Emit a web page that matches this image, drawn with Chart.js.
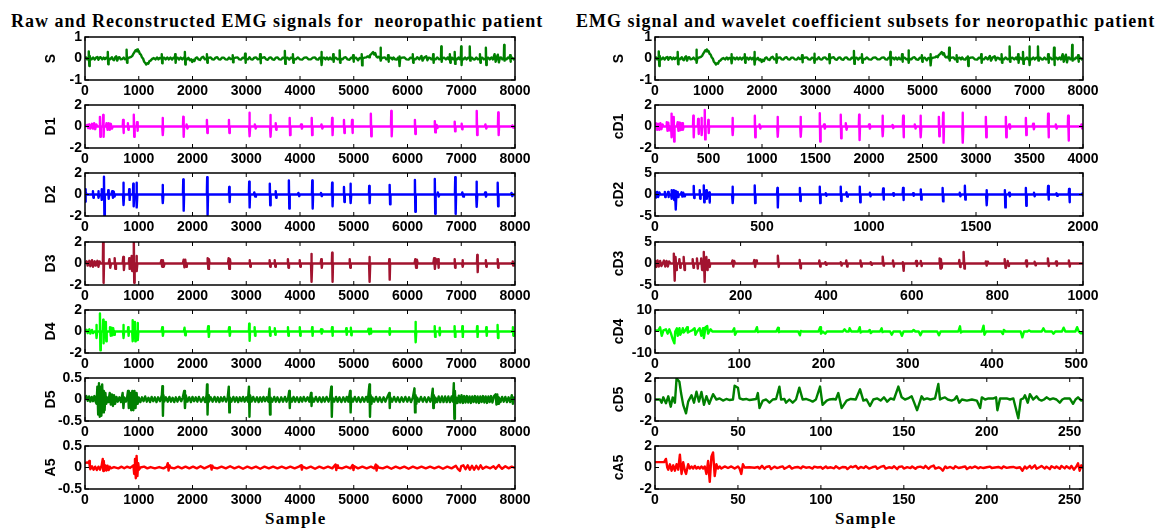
<!DOCTYPE html>
<html><head><meta charset="utf-8">
<script src="https://cdn.jsdelivr.net/npm/chart.js@4.4.1/dist/chart.umd.min.js"></script>
<style>
html,body{margin:0;padding:0;background:#fff}
body{width:1168px;height:530px;overflow:hidden;position:relative}
canvas{position:absolute;left:0;top:0}
.t{position:absolute;font-family:"Liberation Serif","Times New Roman",serif;font-weight:bold;white-space:pre;color:#000;line-height:1}
</style></head><body>
<div class="t" style="left:11px;top:11.6px;font-size:18px;letter-spacing:1px">Raw and Reconstructed EMG signals for  neoropathic patient</div>
<div class="t" style="left:576px;top:11.6px;font-size:18px;letter-spacing:1px">EMG signal and wavelet coefficient subsets for neoropathic patient</div>
<div class="t" style="left:265px;top:509.7px;font-size:17px;letter-spacing:1.3px">Sample</div>
<div class="t" style="left:835px;top:509.7px;font-size:17px;letter-spacing:1.3px">Sample</div>
<script>
// ---------- data: [sample, value] ----------
const S = [[0,0],[20,0.05],[40,-0.04],[60,0.04],[68,0],[72,0.33],[80,-0.35],[88,0.12],[96,0],[120,-0.04],[150,0.05],[180,-0.05],[205,0.04],[230,0.07],[250,-0.06],[270,0.04],[290,0.06],[320,-0.04],[345,0.04],[370,-0.03],[395,0.04],[418,0],[424,0.3],[432,-0.27],[440,0],[465,-0.04],[500,0.06],[520,-0.05],[540,-0.08],[560,0.05],[580,0.1],[600,-0.1],[620,0.04],[640,0.06],[665,-0.04],[690,-0.03],[720,0.04],[745,-0.04],[768,0],[774,0.41],[782,-0.2],[790,0],[820,0.04],[860,0.08],[880,0.12],[900,0.22],[920,0.3],[940,0.38],[955,0.34],[970,0.42],[985,0.33],[1000,0.35],[1020,0.22],[1040,0.18],[1060,0.05],[1080,0.0],[1100,-0.15],[1120,-0.2],[1140,-0.28],[1160,-0.22],[1180,-0.24],[1200,-0.12],[1220,-0.1],[1250,-0.02],[1280,0.02],[1310,-0.04],[1340,0.05],[1365,-0.04],[1390,0.03],[1422,0],[1428,0.2],[1436,-0.22],[1444,0],[1470,0.04],[1500,-0.04],[1530,0.05],[1560,-0.04],[1590,0.04],[1620,-0.05],[1645,0.04],[1672,0],[1678,0.2],[1686,-0.2],[1694,0],[1720,0.04],[1750,-0.05],[1780,0.04],[1810,-0.04],[1835,0.03],[1852,0],[1858,0.3],[1866,-0.28],[1874,0],[1900,-0.04],[1925,0.03],[1950,-0.08],[1975,-0.04],[1995,-0.16],[2015,-0.06],[2035,-0.12],[2060,0.02],[2085,0.05],[2110,-0.04],[2140,-0.07],[2170,0.04],[2200,0.08],[2230,-0.04],[2262,0],[2268,0.2],[2276,-0.2],[2284,0],[2310,0.04],[2340,0.05],[2370,-0.04],[2400,-0.05],[2430,0.04],[2460,0.06],[2490,-0.04],[2520,-0.05],[2550,0.04],[2580,0.04],[2615,-0.04],[2650,-0.05],[2680,0.04],[2710,-0.03],[2742,0],[2748,0.15],[2756,-0.18],[2764,0],[2800,0.04],[2840,0.05],[2870,-0.04],[2900,-0.05],[2935,0.04],[2972,0],[2978,0.22],[2986,-0.2],[2994,0],[3030,-0.04],[3060,0.06],[3090,-0.04],[3120,-0.05],[3150,0.04],[3180,0.05],[3215,-0.04],[3252,0],[3258,0.2],[3266,-0.22],[3274,0],[3305,0.04],[3340,0.06],[3370,-0.04],[3400,-0.06],[3430,0.04],[3460,0.05],[3490,-0.04],[3520,-0.06],[3550,0.04],[3580,0.05],[3615,-0.04],[3650,-0.05],[3680,0.04],[3712,0],[3718,0.35],[3726,-0.25],[3734,0],[3765,0.04],[3800,-0.05],[3830,0.04],[3862,0],[3868,0.2],[3876,-0.2],[3884,0],[3920,-0.04],[3960,0.05],[4000,-0.04],[4040,-0.05],[4080,0.04],[4120,0.05],[4160,-0.04],[4200,-0.04],[4240,0.04],[4280,0.05],[4310,-0.04],[4340,-0.05],[4365,0.04],[4392,0],[4398,0.3],[4406,-0.3],[4414,0],[4445,0.04],[4475,-0.04],[4500,0.05],[4530,-0.05],[4560,0.04],[4585,-0.04],[4612,0],[4618,0.2],[4626,-0.15],[4634,0],[4665,0.04],[4700,-0.04],[4732,0],[4738,0.38],[4746,-0.2],[4754,0],[4790,-0.04],[4820,0.04],[4850,0.06],[4885,-0.04],[4920,-0.06],[4950,0.04],[4982,0],[4988,0.15],[4996,-0.15],[5004,0],[5040,0.04],[5080,-0.08],[5110,0.03],[5142,0],[5148,0.2],[5156,-0.32],[5164,0],[5200,0.04],[5230,0.05],[5260,0.1],[5285,0.06],[5300,0.15],[5330,0.22],[5360,0.3],[5380,0.18],[5400,0.25],[5420,0.1],[5440,0.05],[5465,0.08],[5492,0],[5498,0.5],[5506,-0.1],[5514,0],[5545,0.04],[5580,0.05],[5605,-0.04],[5632,0],[5638,0.15],[5646,-0.15],[5654,0],[5690,0.04],[5720,-0.04],[5740,0.05],[5770,-0.04],[5800,-0.05],[5820,0.03],[5842,0],[5848,0.1],[5856,-0.35],[5864,0],[5900,0.04],[5940,0.05],[5980,-0.04],[6020,-0.05],[6055,0.04],[6092,0],[6098,0.2],[6106,-0.2],[6114,0],[6150,-0.04],[6180,0.06],[6220,-0.04],[6260,0.12],[6280,-0.1],[6310,0.04],[6350,0.1],[6370,-0.08],[6395,0.04],[6420,0.03],[6445,-0.04],[6472,0],[6478,0.2],[6486,-0.2],[6494,0],[6525,-0.04],[6552,0.05],[6590,-0.04],[6622,0],[6628,0.56],[6636,-0.15],[6644,0],[6680,0.04],[6715,-0.04],[6750,0.05],[6765,-0.03],[6782,0],[6788,0.2],[6796,-0.2],[6804,0],[6830,0.04],[6850,-0.04],[6872,0],[6878,0.3],[6886,-0.25],[6894,0],[6920,-0.04],[6950,0.05],[6970,-0.03],[6992,0],[6998,0.56],[7006,-0.3],[7014,0],[7040,-0.04],[7070,0.05],[7100,-0.04],[7125,0.04],[7152,0],[7158,0.56],[7166,-0.1],[7174,0],[7200,0.04],[7225,-0.04],[7250,-0.05],[7280,0.04],[7310,-0.04],[7342,0],[7348,0.2],[7356,-0.2],[7364,0],[7390,0.04],[7420,-0.04],[7452,0],[7458,0.5],[7466,-0.3],[7474,0],[7500,0.04],[7530,-0.04],[7560,0.05],[7590,-0.04],[7620,0.2],[7640,-0.15],[7660,0.05],[7680,0.18],[7700,-0.18],[7720,0.04],[7740,0.05],[7765,-0.04],[7792,0],[7798,0.63],[7806,-0.1],[7814,0],[7840,-0.04],[7870,0.05],[7902,0],[7908,0.15],[7916,-0.15],[7924,0],[7950,0.04],[7975,-0.04],[8000,0.02]];

const D1 = [[0,0],[40,0.15],[60,-0.15],[80,0.2],[100,-0.2],[130,0.25],[150,-0.2],[170,0.3],[190,-0.25],[210,0.2],[230,0],[272,0],[278,0.9],[286,-0.95],[294,0],[332,0],[338,1.07],[346,-0.95],[354,0],[390,0],[400,0.3],[420,-0.3],[440,0.3],[460,-0.3],[480,0.25],[500,-0.2],[520,0],[702,0],[708,0.6],[716,-0.6],[724,0],[792,0],[798,0.3],[806,-0.3],[814,0],[902,0],[908,1.1],[916,-0.95],[924,0],[962,0],[968,0.4],[976,-0.4],[984,0],[1437,0],[1443,0.8],[1451,-0.8],[1459,0],[1822,0],[1828,0.9],[1836,-0.95],[1844,0],[1880,0],[1890,0.2],[1905,-0.2],[1920,0],[2262,0],[2268,0.6],[2276,-0.6],[2284,0],[2672,0],[2678,0.6],[2686,-0.6],[2694,0],[3052,0],[3058,1.28],[3066,-0.9],[3074,0],[3150,0],[3160,0.2],[3175,-0.2],[3190,0],[3442,0],[3448,1.07],[3456,-0.95],[3464,0],[3542,0],[3548,0.3],[3556,-0.3],[3564,0],[3802,0],[3808,0.8],[3816,-0.8],[3824,0],[4010,0],[4020,0.2],[4035,-0.2],[4050,0],[4212,0],[4218,0.8],[4226,-0.8],[4234,0],[4390,0],[4400,0.2],[4415,-0.2],[4430,0],[4592,0],[4598,0.8],[4606,-0.8],[4614,0],[4812,0],[4818,0.6],[4826,-0.6],[4834,0],[4962,0],[4968,0.6],[4976,-0.6],[4984,0],[5312,0],[5318,1.18],[5326,-0.9],[5334,0],[5692,0],[5698,1.44],[5706,-0.9],[5714,0],[6132,0],[6138,0.6],[6146,-0.7],[6154,0],[6502,0],[6508,0.5],[6516,-0.55],[6524,0],[6530,0],[6540,0.15],[6555,-0.15],[6570,0],[6872,0],[6878,0.45],[6886,-0.45],[6894,0],[7002,0],[7008,0.25],[7016,-0.25],[7024,0],[7282,0],[7288,1.44],[7296,-0.8],[7304,0],[7440,0],[7450,0.2],[7465,-0.2],[7480,0],[7682,0],[7688,1.3],[7696,-0.8],[7704,0],[7940,0],[7950,0.1],[7965,-0.1],[7980,0],[8000,0]];

const D2 = [[0,0.5],[8,-0.67],[16,0.2],[30,0],[140,0],[148,0.3],[156,-0.3],[164,0],[242,0],[248,0.3],[256,-0.3],[264,0],[302,0],[308,0.5],[316,-0.5],[324,0],[347,0],[353,1.65],[361,-2.0],[369,0],[427,0],[433,0.4],[441,-0.4],[449,0],[490,0],[505,0.3],[520,-0.3],[535,0.25],[550,-0.2],[565,0],[707,0],[713,1.1],[721,-0.97],[729,0],[817,0],[823,0.5],[831,-0.5],[839,0],[892,0],[898,1.0],[906,-1.1],[914,0],[952,0],[958,1.1],[966,-1.2],[974,0],[1437,0],[1443,0.88],[1451,-0.8],[1459,0],[1822,0],[1828,1.41],[1836,-1.5],[1844,0],[2267,0],[2273,1.6],[2281,-1.9],[2289,0],[2677,0],[2683,0.7],[2691,-0.7],[2699,0],[3049,0],[3055,1.2],[3063,-1.2],[3071,0],[3140,0],[3150,0.2],[3165,-0.2],[3180,0],[3432,0],[3438,1.0],[3446,-1.0],[3454,0],[3542,0],[3548,0.3],[3556,-0.3],[3564,0],[3787,0],[3793,1.3],[3801,-1.3],[3809,0],[3960,0],[3970,0.15],[3985,-0.15],[4000,0],[4222,0],[4228,1.3],[4236,-1.3],[4244,0],[4380,0],[4390,0.15],[4405,-0.15],[4420,0],[4592,0],[4598,1.1],[4606,-1.1],[4614,0],[4812,0],[4818,0.7],[4826,-0.7],[4834,0],[4932,0],[4938,1.0],[4946,-0.8],[4954,0],[5282,0],[5288,0.8],[5296,-0.8],[5304,0],[5662,0],[5668,0.9],[5676,-0.9],[5684,0],[6132,0],[6138,1.35],[6146,-1.6],[6154,0],[6502,0],[6508,1.45],[6516,-1.8],[6524,0],[6555,0],[6565,0.2],[6580,-0.2],[6595,0],[6882,0],[6888,1.6],[6896,-1.8],[6904,0],[7010,0],[7020,0.2],[7035,-0.2],[7050,0],[7277,0],[7283,1.2],[7291,-1.15],[7299,0],[7435,0],[7445,0.2],[7460,-0.2],[7475,0],[7672,0],[7678,1.1],[7686,-1.1],[7694,0],[7925,0],[7935,0.15],[7950,-0.15],[7965,0],[8000,0]];

const D3 = [[0,0],[30,0.2],[50,-0.2],[80,0.25],[100,-0.25],[130,0.3],[150,-0.3],[180,0.2],[200,-0.2],[230,0.25],[250,-0.3],[270,0.2],[290,0],[332,0],[338,2.3],[346,-1.8],[354,0],[440,0],[455,0.4],[470,-0.4],[485,0],[540,0],[552,0.5],[564,-0.5],[576,0],[700,0],[712,0.6],[724,-0.6],[736,0],[815,0],[823,0.5],[831,-0.5],[839,0],[862,0],[868,0.7],[876,-0.7],[884,0],[902,0],[908,2.3],[916,-1.8],[924,0],[952,0],[958,0.7],[966,-0.7],[974,0],[1405,0],[1420,0.3],[1435,-0.3],[1450,0.3],[1465,-0.3],[1480,0],[1820,0],[1835,0.35],[1850,-0.35],[1865,0.35],[1880,-0.3],[1895,0],[2270,0],[2282,0.5],[2294,-0.5],[2306,0.4],[2318,0],[2660,0],[2672,0.5],[2684,-0.5],[2696,0.4],[2708,0],[3055,0],[3065,0.3],[3075,-0.3],[3085,0],[3425,0],[3435,0.3],[3445,-0.3],[3455,0],[3520,0],[3530,0.3],[3540,-0.3],[3550,0],[3765,0],[3775,0.4],[3785,-0.4],[3795,0],[3985,0],[3995,0.3],[4005,-0.3],[4015,0],[4205,0],[4211,0.9],[4219,-1.7],[4227,0],[4385,0],[4395,0.4],[4405,-0.4],[4415,0],[4592,0],[4598,1.0],[4606,-1.7],[4614,0],[4915,0],[4925,0.4],[4935,-0.4],[4945,0],[5285,0],[5291,0.6],[5299,-1.7],[5307,0],[5655,0],[5661,0.4],[5669,-1.5],[5677,0],[6130,0],[6145,0.4],[6160,-0.4],[6175,0.35],[6190,0],[6480,0],[6495,0.5],[6510,-0.5],[6525,0.45],[6540,0],[6560,0],[6568,0.4],[6576,-0.4],[6584,0],[6870,0],[6878,0.4],[6886,-0.4],[6894,0],[7015,0],[7023,0.3],[7031,-0.3],[7039,0],[7292,0],[7298,0.8],[7306,-0.8],[7314,0],[7450,0],[7458,0.3],[7466,-0.3],[7474,0],[7670,0],[7678,0.4],[7686,-0.4],[7694,0],[7950,0],[7958,0.2],[7966,-0.2],[7974,0],[8000,0]];

const D4 = [[0,0],[30,0.15],[50,-0.15],[80,0.2],[100,-0.2],[130,0.15],[150,-0.15],[175,0],[205,0],[211,0.6],[219,-0.6],[227,0],[272,0],[278,1.68],[286,-1.74],[294,0],[332,0],[338,1.1],[346,-1.1],[354,0],[382,0],[388,0.9],[396,-0.9],[404,0],[450,0],[465,0.4],[480,-0.4],[495,0.35],[510,-0.35],[525,0.3],[540,-0.3],[555,0],[707,0],[713,0.6],[721,-0.6],[729,0],[797,0],[803,0.4],[811,-0.4],[819,0],[877,0],[883,1.05],[891,-0.9],[899,0],[922,0],[928,0.9],[936,-0.9],[944,0],[972,0],[978,0.8],[986,-0.8],[994,0],[1425,0],[1437,0.4],[1449,-0.4],[1461,0],[1840,0],[1852,0.35],[1864,-0.35],[1876,0],[2280,0],[2292,0.5],[2304,-0.5],[2316,0],[2670,0],[2682,0.4],[2694,-0.4],[2706,0],[3049,0],[3055,0.73],[3063,-0.86],[3071,0],[3148,0],[3156,0.4],[3164,-0.4],[3172,0],[3428,0],[3436,0.4],[3444,-0.4],[3452,0],[3523,0],[3531,0.3],[3539,-0.3],[3547,0],[3768,0],[3776,0.4],[3784,-0.4],[3792,0],[3988,0],[3996,0.4],[4004,-0.4],[4012,0],[4218,0],[4226,0.4],[4234,-0.4],[4242,0],[4380,0],[4392,0.2],[4404,-0.2],[4416,0.2],[4428,0],[4588,0],[4596,0.4],[4604,-0.4],[4612,0],[4853,0],[4861,0.3],[4869,-0.3],[4877,0],[4938,0],[4946,0.35],[4954,-0.35],[4962,0],[5260,0],[5275,0.25],[5290,-0.25],[5305,0.25],[5320,-0.2],[5335,0],[5658,0],[5666,0.3],[5674,-0.3],[5682,0],[6142,0],[6148,0.9],[6156,-1.0],[6164,0],[6498,0],[6506,0.5],[6514,-0.5],[6522,0],[6588,0],[6596,0.35],[6604,-0.35],[6612,0],[6868,0],[6876,0.5],[6884,-0.5],[6892,0],[7013,0],[7021,0.5],[7029,-0.5],[7037,0],[7288,0],[7296,0.5],[7304,-0.5],[7312,0],[7458,0],[7466,0.4],[7474,-0.4],[7482,0],[7668,0],[7676,0.6],[7684,-0.6],[7692,0],[7953,0],[7961,0.4],[7969,-0.4],[7977,0],[8000,0]];

const D5 = [[0,0.02],[25,0.08],[50,-0.03],[75,0.07],[100,-0.05],[125,0.06],[150,-0.04],[175,0.08],[200,-0.06],[215,-0.1],[230,0.3],[245,-0.35],[260,0.38],[275,-0.4],[290,0.3],[305,-0.38],[320,0.35],[335,-0.3],[350,0.2],[365,-0.25],[380,0.15],[395,-0.1],[410,0.05],[435,-0.06],[460,0.15],[480,-0.12],[500,0.12],[520,-0.15],[540,0.1],[560,-0.1],[585,0.06],[610,-0.05],[640,0.05],[670,-0.06],[700,0.15],[715,-0.2],[730,0.05],[760,-0.05],[785,0.06],[800,0.2],[815,-0.2],[840,0.15],[860,-0.25],[880,0.2],[900,-0.25],[920,0.2],[940,-0.2],[960,0.15],[980,-0.1],[1000,0.05],[1030,-0.06],[1060,0.05],[1090,-0.04],[1120,0.07],[1150,-0.05],[1180,0.04],[1210,-0.06],[1240,0.06],[1270,-0.04],[1300,0.05],[1330,-0.06],[1360,0.05],[1395,-0.04],[1430,0.1],[1440,0.31],[1450,-0.38],[1460,0.1],[1475,-0.05],[1505,0.05],[1540,-0.05],[1570,0.06],[1600,-0.05],[1630,0.04],[1660,-0.06],[1690,0.05],[1720,-0.05],[1755,0.06],[1790,-0.04],[1820,0.05],[1845,0.2],[1860,-0.2],[1875,0.1],[1905,-0.05],[1940,0.05],[1970,-0.06],[2000,0.06],[2030,-0.04],[2060,0.05],[2090,-0.05],[2120,0.06],[2160,-0.05],[2200,0.05],[2235,-0.06],[2262,0.1],[2270,0.35],[2280,-0.35],[2290,0.1],[2305,-0.05],[2340,0.05],[2375,-0.05],[2410,0.06],[2440,-0.05],[2470,0.05],[2500,-0.06],[2530,0.05],[2560,-0.04],[2590,0.06],[2625,-0.05],[2655,0.05],[2675,0.3],[2685,-0.3],[2695,0.05],[2725,-0.05],[2760,0.06],[2790,-0.05],[2820,0.05],[2850,-0.06],[2880,0.05],[2910,-0.04],[2940,0.06],[2970,-0.05],[3000,0.05],[3030,-0.05],[3050,0.3],[3060,-0.4],[3070,0.1],[3100,-0.05],[3130,0.06],[3165,-0.05],[3200,0.05],[3230,-0.06],[3260,0.05],[3290,-0.05],[3320,0.06],[3350,-0.04],[3380,0.05],[3410,-0.05],[3432,0.25],[3442,-0.35],[3452,0.05],[3485,-0.05],[3520,0.06],[3550,-0.05],[3580,0.05],[3615,-0.06],[3650,0.05],[3685,-0.05],[3720,0.06],[3750,-0.05],[3780,0.04],[3800,0.2],[3810,-0.2],[3820,0.05],[3850,-0.05],[3880,0.06],[3910,-0.05],[3945,0.05],[3980,-0.06],[4010,0.05],[4040,-0.05],[4070,0.06],[4105,-0.04],[4140,0.05],[4175,-0.05],[4205,0.15],[4215,-0.15],[4225,0.05],[4260,-0.05],[4295,0.06],[4330,-0.05],[4365,0.05],[4400,-0.06],[4430,0.05],[4460,-0.05],[4495,0.06],[4530,-0.05],[4560,0.05],[4582,0.3],[4592,-0.4],[4602,0.05],[4635,-0.05],[4670,0.06],[4700,-0.05],[4735,0.05],[4770,-0.06],[4805,0.05],[4840,-0.05],[4870,0.06],[4900,-0.05],[4932,0.2],[4942,-0.3],[4952,0.05],[4985,-0.05],[5020,0.06],[5055,-0.05],[5090,0.05],[5125,-0.06],[5160,0.05],[5195,-0.05],[5230,0.06],[5260,-0.05],[5280,0.2],[5292,0.35],[5302,-0.4],[5314,0.1],[5330,-0.1],[5345,0.05],[5380,-0.05],[5415,0.06],[5450,-0.05],[5485,0.05],[5520,-0.06],[5555,0.05],[5590,-0.05],[5625,0.06],[5660,0.15],[5670,-0.2],[5680,0.05],[5715,-0.05],[5750,0.06],[5785,-0.05],[5820,0.05],[5855,-0.06],[5890,0.05],[5925,-0.05],[5960,0.06],[5995,-0.05],[6030,0.05],[6065,-0.06],[6100,0.05],[6130,0.26],[6140,-0.3],[6150,0.1],[6165,-0.1],[6180,0.04],[6215,-0.05],[6250,0.06],[6285,-0.05],[6320,0.05],[6355,-0.06],[6390,0.05],[6425,-0.05],[6450,0.05],[6470,0.25],[6480,-0.2],[6490,0.1],[6505,-0.08],[6520,0.04],[6550,-0.06],[6580,0.07],[6610,-0.06],[6640,0.07],[6670,-0.06],[6700,0.07],[6730,-0.06],[6760,0.07],[6790,-0.06],[6820,0.07],[6845,-0.05],[6862,0.38],[6872,-0.45],[6882,0.2],[6892,-0.1],[6905,0.05],[6930,-0.08],[6955,0.09],[6980,-0.07],[7005,0.1],[7030,-0.08],[7055,0.08],[7080,-0.07],[7105,0.08],[7130,-0.07],[7155,0.07],[7180,-0.08],[7205,0.07],[7230,-0.06],[7255,0.08],[7280,-0.07],[7305,0.07],[7330,-0.08],[7355,0.07],[7380,-0.06],[7405,0.08],[7430,-0.07],[7455,0.07],[7480,-0.08],[7505,0.07],[7530,-0.06],[7555,0.08],[7580,-0.07],[7610,0.08],[7640,0.12],[7655,-0.12],[7670,0.12],[7685,-0.1],[7700,0.05],[7730,-0.06],[7760,0.06],[7790,-0.05],[7820,0.06],[7850,-0.06],[7880,0.05],[7910,-0.06],[7940,0.1],[7960,-0.1],[7980,0.05],[8000,0.02]];

const A5 = [[0,0.1],[40,0.12],[70,0.1],[80,0.15],[90,0.0],[100,-0.04],[130,0.03],[160,-0.05],[190,0.02],[220,-0.06],[250,0.02],[280,-0.05],[310,0.05],[330,0.2],[340,-0.08],[350,0.15],[360,-0.07],[380,0.05],[400,-0.07],[420,0.04],[440,-0.06],[460,0.02],[480,-0.02],[540,0.01],[620,-0.02],[680,0.02],[730,-0.02],[780,0.02],[840,-0.01],[900,0.05],[915,-0.15],[930,0.2],[945,-0.25],[960,0.27],[975,-0.2],[990,0.1],[1005,-0.05],[1030,0],[1100,0.02],[1160,-0.02],[1220,0.01],[1300,-0.02],[1380,0.01],[1460,-0.02],[1520,0.02],[1540,0.1],[1555,-0.07],[1570,0.05],[1590,0],[1660,-0.02],[1730,0.02],[1800,-0.02],[1870,0.02],[1940,-0.02],[2010,0.02],[2080,-0.02],[2150,0.03],[2220,-0.02],[2290,0.02],[2340,0.05],[2355,-0.05],[2370,0.04],[2390,0],[2460,-0.02],[2540,0.02],[2620,-0.02],[2700,0.03],[2780,-0.02],[2860,0.02],[2940,-0.03],[3020,0.02],[3100,-0.02],[3180,0.02],[3260,-0.03],[3340,0.02],[3420,-0.02],[3500,0.02],[3580,-0.02],[3660,0.02],[3740,-0.02],[3820,0.02],[3900,-0.02],[3980,0.02],[4020,0.05],[4035,-0.05],[4050,0.02],[4120,-0.02],[4200,0.02],[4280,-0.03],[4360,0.02],[4440,-0.02],[4520,0.02],[4600,-0.02],[4660,0.07],[4675,-0.06],[4690,0.05],[4705,0],[4780,-0.02],[4860,0.02],[4940,-0.02],[4980,0.06],[4995,-0.06],[5010,0.03],[5080,-0.02],[5160,0.02],[5240,-0.02],[5320,0.02],[5380,-0.02],[5410,0.07],[5425,-0.07],[5440,0.04],[5460,0],[5540,-0.02],[5620,0.02],[5700,-0.03],[5780,0.02],[5860,-0.02],[5940,0.02],[6020,-0.03],[6100,0.02],[6180,-0.02],[6260,0.02],[6340,-0.02],[6420,0.02],[6500,-0.02],[6580,0.02],[6660,-0.03],[6740,0.02],[6820,-0.02],[6900,0.04],[6940,-0.04],[6975,-0.08],[7000,0.03],[7040,0.05],[7080,-0.04],[7120,0.05],[7160,-0.05],[7200,0.04],[7240,-0.05],[7280,0.04],[7320,-0.04],[7360,0.05],[7400,-0.03],[7460,0.02],[7540,-0.02],[7600,0.03],[7640,-0.03],[7700,0.06],[7720,0.02],[7760,-0.03],[7820,0.03],[7880,-0.02],[7940,0.02],[8000,-0.01]];

const cD1 = [[0,0],[10,0.3],[20,-0.3],[30,0.25],[40,-0.3],[50,0.3],[60,-0.25],[70,0.2],[80,0],[105,0],[110,0.4],[117,-0.4],[124,0.35],[131,-0.35],[138,0],[150,0],[153,1.2],[157,-1.0],[161,0],[172,0],[175,0.9],[179,-1.4],[183,0],[205,0],[212,0.4],[219,-0.4],[226,0.35],[233,-0.35],[240,0.3],[247,-0.3],[254,0.3],[261,-0.3],[268,0],[355,0],[358,1.0],[362,-1.0],[366,0],[400,0],[403,0.7],[407,-0.7],[411,0],[431,0],[434,0.8],[438,-0.8],[442,0],[462,0],[465,1.53],[469,-1.2],[473,0],[495,0],[498,0.6],[502,-0.6],[506,0],[721,0],[724,0.8],[728,-0.8],[732,0],[930,0],[933,1.0],[937,-1.0],[941,0],[972,0],[977,0.2],[984,-0.2],[991,0],[1142,0],[1145,0.9],[1149,-0.95],[1153,0],[1357,0],[1360,0.9],[1364,-0.95],[1368,0],[1537,0],[1540,1.23],[1544,-1.4],[1548,0],[1575,0],[1580,0.2],[1587,-0.2],[1594,0],[1733,0],[1736,1.1],[1740,-1.1],[1744,0],[1778,0],[1783,0.3],[1790,-0.3],[1797,0],[1905,0],[1908,1.1],[1912,-1.25],[1916,0],[1996,0],[2001,0.2],[2008,-0.2],[2015,0],[2123,0],[2126,1.0],[2130,-0.9],[2134,0],[2215,0],[2220,0.15],[2227,-0.15],[2234,0],[2316,0],[2319,1.0],[2323,-1.0],[2327,0],[2423,0],[2428,0.2],[2435,-0.2],[2442,0],[2478,0],[2481,1.0],[2485,-1.0],[2489,0],[2650,0],[2653,0.9],[2657,-0.9],[2661,0],[2690,0],[2693,1.28],[2697,-1.5],[2701,0],[2871,0],[2874,1.28],[2878,-1.5],[2882,0],[3089,0],[3092,0.9],[3096,-1.0],[3100,0],[3276,0],[3279,0.9],[3283,-1.0],[3287,0],[3305,0],[3310,0.2],[3317,-0.2],[3324,0],[3463,0],[3466,0.8],[3470,-0.8],[3474,0],[3529,0],[3534,0.25],[3541,-0.25],[3548,0],[3671,0],[3674,1.2],[3678,-1.0],[3682,0],[3741,0],[3746,0.2],[3753,-0.2],[3760,0],[3858,0],[3861,1.0],[3865,-1.3],[3869,0],[3981,0],[3986,0.2],[3993,-0.2],[4000,0]];

const cD2 = [[0,0.7],[5,-0.7],[10,0.6],[15,-0.6],[20,0.5],[25,0],[44,0],[46,0.6],[48,-0.6],[50,0],[59,0],[61,0.6],[63,-0.6],[65,0],[75,0],[77,1.0],[79,-1.0],[81,0],[86,0],[88,1.0],[90,-1.3],[92,0],[94,0],[96,0.8],[98,-3.5],[100,0],[104,0],[106,0.6],[108,-0.6],[110,0],[120,0],[124,0.5],[128,-0.5],[132,0.4],[136,-0.4],[140,0],[179,0],[181,2.0],[183,-0.8],[185,0],[207,0],[209,1.0],[211,-1.0],[213,0],[226,0],[228,2.1],[230,-1.8],[232,0],[238,0],[240,1.0],[242,-1.0],[244,0],[251,0],[253,0.5],[255,-1.9],[257,0],[360,0],[362,1.8],[364,-2.0],[366,0],[464,0],[466,2.1],[468,-2.0],[470,0],[570,0],[572,1.5],[574,-3.0],[576,0],[675,0],[677,1.5],[679,-1.5],[681,0],[768,0],[770,1.8],[772,-2.0],[774,0],[795,0],[798,0.3],[801,-0.3],[804,0],[866,0],[868,1.8],[870,-1.5],[872,0],[892,0],[895,0.5],[898,-0.5],[901,0],[955,0],[957,1.8],[959,-1.8],[961,0],[1001,0],[1004,0.4],[1007,-0.4],[1010,0],[1064,0],[1066,1.4],[1068,-1.2],[1070,0],[1110,0],[1113,0.3],[1116,-0.3],[1119,0],[1157,0],[1159,1.5],[1161,-1.3],[1163,0],[1203,0],[1206,0.3],[1209,-0.3],[1212,0],[1240,0],[1242,1.2],[1244,-1.2],[1246,0],[1342,0],[1344,1.5],[1346,-1.6],[1348,0],[1421,0],[1424,0.4],[1427,-0.4],[1430,0],[1446,0],[1448,2.05],[1450,-1.2],[1452,0],[1547,0],[1549,1.0],[1551,-2.5],[1553,0],[1633,0],[1635,1.0],[1637,-3.0],[1639,0],[1652,0],[1655,0.4],[1658,-0.4],[1661,0],[1731,0],[1733,1.5],[1735,-2.6],[1737,0],[1768,0],[1771,0.4],[1774,-0.4],[1777,0],[1835,0],[1837,2.0],[1839,-1.2],[1841,0],[1873,0],[1876,0.3],[1879,-0.3],[1882,0],[1933,0],[1935,1.3],[1937,-1.8],[1939,0],[1993,0],[1996,0.2],[1999,-0.2],[2000,0]];

const cD3 = [[0,0.8],[3,-0.8],[6,0.7],[9,-0.7],[12,0.6],[15,-0.6],[18,0],[21,0.7],[24,-0.7],[27,0.6],[30,-0.7],[33,0.5],[36,0],[43,0],[44,2.3],[46,-4.0],[47,0],[48,1.5],[50,-1.5],[51,0],[56,0],[57,1.0],[59,-1.0],[60,0],[66,0],[67,1.5],[69,-1.5],[70,0],[87,0],[88,1.0],[90,-1.0],[91,0],[97,0],[98,1.2],[100,-1.2],[101,0],[107,0],[108,1.2],[110,-1.5],[111,0],[113,0],[114,2.7],[116,-4.3],[117,0],[119,0],[120,1.5],[122,-1.5],[123,0],[125,0],[126,0.8],[128,-0.8],[129,0],[179,0],[181,0.7],[183,-0.7],[185,0.6],[187,0],[230,0],[232,0.8],[234,-0.8],[236,0.7],[238,0],[286,0],[287,1.8],[289,-0.8],[290,0],[337,0],[338,0.8],[340,-1.1],[341,0],[383,0],[384,0.7],[386,-0.7],[387,0],[397,0],[398,0.3],[400,-0.3],[401,0],[433,0],[434,0.3],[436,-0.5],[437,0],[446,0],[447,0.7],[449,-0.7],[450,0],[479,0],[480,0.7],[482,-0.7],[483,0],[503,0],[504,0.3],[506,-0.3],[507,0],[531,0],[532,1.6],[534,-0.5],[535,0],[555,0],[556,0.7],[558,-0.7],[559,0],[578,0],[579,0.3],[581,-1.7],[582,0],[609,0],[610,0.6],[612,-0.6],[613,0],[620,0],[621,0.6],[623,-0.6],[624,0],[664,0],[665,1.2],[667,-1.2],[668,1.0],[670,-1.0],[671,0],[710,0],[711,0.8],[713,-0.8],[714,0],[720,0],[721,2.7],[723,-1.2],[724,0],[772,0],[773,0.5],[775,-0.5],[776,0.4],[778,0],[816,0],[817,1.0],[819,-1.0],[820,0],[823,0],[824,0.6],[826,-0.6],[827,0],[866,0],[867,0.7],[869,-0.7],[870,0],[886,0],[887,0.4],[889,-0.4],[890,0],[917,0],[918,1.2],[920,-0.6],[921,0],[936,0],[937,0.5],[939,-0.5],[940,0],[966,0],[967,0.7],[969,-0.7],[970,0],[1000,0]];

const cD4 = [[0,0.5],[4,0.5],[6,2],[8,-2],[10,0.5],[13,1],[15,-1],[17,1],[19,-1],[21,-3.5],[23,-5.5],[24,0],[26,1.5],[27,-2],[29,1.5],[30,-1.5],[32,0],[33,1.5],[34,-0.5],[36,0.5],[38,2],[39,-0.5],[41,0],[44,0.5],[47,1.5],[48,-1.5],[50,0],[53,1.5],[55,-2],[57,1.5],[58,-3],[60,2],[62,2.5],[63,-1],[65,0.5],[66,1],[68,0],[92,0],[94,1.5],[95,-1.5],[97,0],[119,0],[121,2],[122,-0.3],[124,0],[144,0],[146,1.7],[147,-0.3],[149,0],[170,0],[172,-1.8],[173,0.3],[175,0],[194,0],[196,2],[197,-1],[199,0],[202,-1],[204,0],[223,0],[225,1],[227,0],[230,0],[231,1.5],[233,0],[241,0],[243,2],[244,-0.5],[246,0],[253,0],[255,0.7],[256,-0.7],[258,0],[267,0],[269,1.5],[270,-0.3],[272,0],[279,0],[281,-1.5],[283,0],[291,0],[293,-2],[295,0],[305,0],[307,0.7],[309,0],[313,0],[315,-1.8],[317,0],[335,0],[337,-1.8],[339,0],[360,0],[362,2.4],[363,-0.5],[365,0],[388,0],[390,2.7],[391,-1.5],[393,0],[411,0],[413,-1.2],[414,0.7],[416,0],[434,0],[436,-2.7],[438,0],[442,0],[444,0.5],[446,0],[459,0],[461,1.5],[463,0],[471,0],[473,-1],[475,0],[483,0],[485,1.8],[487,0],[499,0],[501,2],[503,0],[505,-0.8],[508,-0.8]];

const cD5 = [[0,0],[3,0],[4,-0.3],[5,0.2],[6.6,-0.35],[8,0.3],[9.5,-0.67],[10.7,0.2],[12,-0.3],[13,1.97],[14.7,1.65],[15.7,0.6],[17,-0.5],[18.7,-1.28],[20,-0.2],[22,0.4],[23.5,-0.3],[25,0.72],[26.5,-0.2],[28,0.7],[29.5,-0.5],[31,0.3],[32.7,-0.4],[35,0.5],[37,0],[39,0.1],[41,-0.1],[43,0.05],[45,-0.05],[47,0],[48,1.28],[50,1.1],[51,0.1],[53,0],[55,0.05],[57,-0.05],[59,0],[61,0.05],[62,0.6],[63,-0.8],[65,-0.1],[67,0],[69,-0.3],[71,0],[73,0.05],[75,1.2],[76,0],[78,0.05],[79,-0.3],[81,0],[83,-0.3],[85,0],[87,1.1],[89,0],[91,0.05],[93,-0.05],[95,-0.2],[97,0],[99.5,1.2],[101,-0.5],[103.5,-0.1],[105,0],[107.5,0.05],[109,0],[110.5,0.6],[112.5,-0.8],[115.5,-0.1],[118,0.05],[121,0],[123.6,0.95],[125.6,-0.1],[127.5,0],[129.6,-0.6],[131.6,0],[134,0.1],[136,-0.1],[138,0.2],[140,-0.2],[142,0.1],[144,0],[146.7,1.2],[148.7,0.2],[150.7,0],[152.5,0.1],[154.7,0.3],[156,-0.2],[158,-1.0],[159.7,-0.2],[160.7,0.3],[162,0],[164,0.1],[166,0],[168.8,0.1],[170.8,1.44],[171.8,0],[173,0.1],[174.8,0.2],[176.5,0],[178.8,-0.1],[180.5,0],[181.9,0.3],[183.4,-0.3],[185,0],[188,-0.1],[191,0],[194,-0.1],[196,-0.8],[197,0.2],[199,0],[201,0.1],[204,0.1],[205.6,0.2],[206.4,-1.0],[208,0.1],[210,0.1],[212,0.1],[214,0],[216,0.1],[219,-1.75],[220.5,0],[222,0.1],[223,0.4],[224.7,-0.3],[226,0.5],[228,0],[230,0.3],[231.5,0],[233,-0.1],[234.5,0],[236,0.2],[238,0],[240,0.1],[242,0],[244,-0.3],[245.5,0],[247,0.1],[250,0.1],[252,-0.4],[253.5,0],[255,0.2],[257,-0.1],[258,0]];

const cA5 = [[0,0.5],[4,0.5],[5.5,0.5],[6.6,0.8],[7.4,0],[8,-0.2],[9,0.3],[10,-0.3],[11,0.2],[12,-0.3],[13,0.3],[14,-0.2],[15,1.2],[16,-0.6],[17,0.5],[18,-0.3],[18.7,-0.6],[20,0.3],[21,-0.1],[22,0.1],[23,-0.1],[24,0.15],[25,-0.1],[26,0.05],[27,-0.1],[28,0.1],[29,-0.1],[30,0.1],[31,-0.6],[32,0.6],[33,-1.33],[34,1.0],[35,1.4],[36,-0.8],[37,0.3],[38,-0.1],[39,0.1],[40,-0.1],[42,0.1],[44,-0.05],[46,0.1],[48,-0.1],[50,0.1],[51,-0.1],[52,-0.6],[53,0.3],[54,0],[57,0.02],[60,-0.02],[62,0.05],[63,-0.1],[64.5,0.15],[66,-0.12],[67,0.05],[69,0.12],[70,-0.15],[72,0.08],[73.5,-0.05],[75,0.02],[77,0.1],[78,-0.12],[80,0.05],[81,0.15],[82.5,-0.1],[84,0],[86,0.05],[88,-0.08],[89,0.1],[91,-0.02],[93,0.03],[95,-0.1],[96,0.08],[98,0],[100,0.05],[101,-0.12],[103,0.1],[104,-0.05],[106,0.02],[108,-0.08],[109,0.12],[111,-0.1],[113,0.05],[115,0.02],[116,-0.15],[118,0.1],[119,0.02],[121,0.15],[122.5,-0.12],[124,0.05],[126,-0.05],[127,0.12],[129,-0.1],[131,0.02],[133,0.1],[134,-0.12],[136,0.05],[138,0.15],[139,-0.1],[141,0.02],[143,-0.05],[144,0.12],[146,-0.15],[147,0.05],[149,0.1],[150,-0.1],[152,0.03],[154,-0.05],[155,0.1],[157,-0.12],[158,0.02],[160,0.08],[162,-0.05],[163,0.15],[165,-0.12],[166,0.05],[168,0.18],[169,-0.1],[171,0.02],[172,-0.05],[173.5,-0.3],[175,0.1],[176,-0.05],[178,0.05],[180,-0.1],[181,0.12],[183,-0.05],[185,0.02],[187,0.1],[188,-0.15],[190,0.05],[191,-0.05],[193,0.1],[195,-0.08],[196,0.03],[198,-0.05],[200,0.02],[202,0.08],[203,-0.05],[205,0],[207,0.05],[209,-0.08],[210,0.1],[212,-0.03],[214,0.02],[216,0.05],[218,-0.05],[220,0.02],[221.5,-0.3],[223,0.1],[224,-0.1],[226,0.15],[227,-0.08],[229,0.2],[230,-0.12],[232,0.05],[233,0.15],[235,-0.1],[236,0.08],[238,-0.15],[239,0.12],[241,-0.05],[242,0.1],[244,-0.12],[245,0.15],[247,-0.08],[248,0.12],[250,-0.1],[251,0.15],[252.5,-0.2],[254,0.1],[255,0.4],[256,-0.3],[257,0.2],[258,-0.1]];

// axis labels, ranges and tick values
const leftLabels  = ['S','D1','D2','D3','D4','D5','A5'];
const rightLabels = ['S','cD1','cD2','cD3','cD4','cD5','cA5'];
const leftYMax  = [1,2,2,2,2,0.5,0.5];
const rightYMax = [1,2,5,5,10,2,2];
const rightXMax = [8000,4000,2000,1000,508,258,258];
const xTicks8000 = [0,1000,2000,3000,4000,5000,6000,7000,8000];
const xTicks4000 = [0,500,1000,1500,2000,2500,3000,3500,4000];
const xTicks2000 = [0,500,1000,1500,2000];
const xTicks1000 = [0,200,400,600,800,1000];
const xTicks500  = [0,100,200,300,400,500];
const xTicks250  = [0,50,100,150,200,250];
const rightXTicks = [xTicks8000,xTicks4000,xTicks2000,xTicks1000,xTicks500,xTicks250,xTicks250];
const colors = ['#008000','#ff00ff','#0000ff','#a2142f','#00ff00','#008000','#ff0000'];
const leftData  = [S,D1,D2,D3,D4,D5,A5];
const rightData = [S,cD1,cD2,cD3,cD4,cD5,cA5];

// ---------- layout ----------
const W = 1168, H = 530;
const ROW_TOP = [37,105,173,242,310,378,446], PH = 43, XH = 20;
const COL_L = [85,655], COL_R = [515,1083], YW = [42,44];
const FONT = {family:'"Liberation Sans", Arial, Helvetica, sans-serif', size:14, weight:'bold'};

const frame = {
  id:'frame',
  afterDraw(chart){
    const {ctx, chartArea:a} = chart; const x = chart.scales.x, y = chart.scales.y;
    ctx.save(); ctx.strokeStyle = '#000'; ctx.lineWidth = 1;
    ctx.beginPath();
    x.ticks.forEach(t => { const p = x.getPixelForValue(t.value);
      ctx.moveTo(p, a.bottom); ctx.lineTo(p, a.bottom - 4);
      ctx.moveTo(p, a.top); ctx.lineTo(p, a.top + 4); });
    y.ticks.forEach(t => { const p = y.getPixelForValue(t.value);
      ctx.moveTo(a.left, p); ctx.lineTo(a.left + 4, p);
      ctx.moveTo(a.right, p); ctx.lineTo(a.right - 4, p); });
    ctx.stroke();
    ctx.lineWidth = 1.5;
    ctx.strokeRect(a.left, a.top, a.right - a.left, a.bottom - a.top);
    ctx.restore();
  }
};

function makePanel(col, row, data, label, ymax, xmax, xticks, color){
  const cv = document.createElement('canvas');
  cv.width = W; cv.height = H; document.body.appendChild(cv);
  const top = ROW_TOP[row], bottom = top + PH;
  new Chart(cv, {
    type:'line',
    data:{datasets:[{data, borderColor:color, borderWidth:2.4, pointRadius:0, tension:0,
      borderJoinStyle:'round', fill:false}]},
    options:{
      responsive:false, animation:false, devicePixelRatio:1,
      events:[],
      layout:{padding:{left:COL_L[col]-YW[col], right:W-COL_R[col], top:top, bottom:H-bottom-XH}},
      plugins:{legend:{display:false}, tooltip:{enabled:false}},
      scales:{
        x:{type:'linear', min:0, max:xmax,
          grid:{display:false, drawTicks:false}, border:{display:false},
          ticks:{autoSkip:false, maxRotation:0, padding:3,
            color:'#000', font:FONT, callback:v=>String(v)},
          afterBuildTicks:s=>{ s.ticks = xticks.map(v=>({value:v})); },
          afterFit:s=>{s.height = XH;}},
        y:{type:'linear', min:-ymax, max:ymax,
          grid:{display:false, drawTicks:false}, border:{display:false},
          ticks:{autoSkip:false, padding:3, color:'#000', font:FONT, callback:v=>String(v)},
          afterBuildTicks:s=>{ s.ticks = [-ymax,0,ymax].map(v=>({value:v})); },
          title:{display:true, text:label, color:'#000', font:FONT, padding:0},
          afterFit:s=>{s.width = YW[col];}}
      }
    },
    plugins:[frame]
  });
}

for (let r = 0; r < 7; r++) {
  makePanel(0, r, leftData[r], leftLabels[r], leftYMax[r], 8000, xTicks8000, colors[r]);
  makePanel(1, r, rightData[r], rightLabels[r], rightYMax[r], rightXMax[r], rightXTicks[r], colors[r]);
}
</script>
</body></html>
